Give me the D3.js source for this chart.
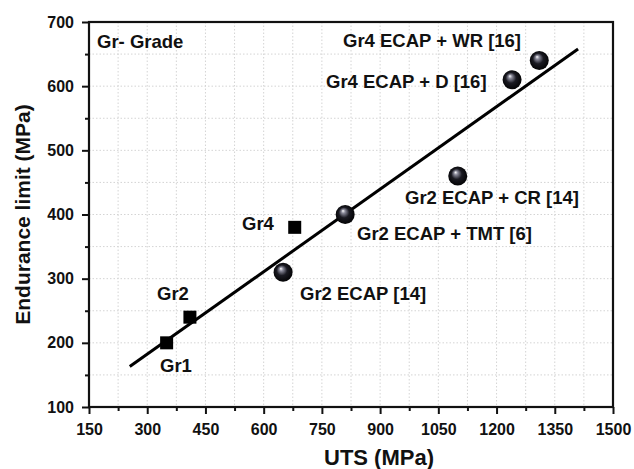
<!DOCTYPE html>
<html><head><meta charset="utf-8">
<script src="https://cdn.jsdelivr.net/npm/d3@7"></script>
<style>
body{margin:0;background:#fff;}
text{font-family:"Liberation Sans",Arial,sans-serif;font-weight:bold;fill:#111;}
</style></head>
<body><svg id="c" width="634" height="469"></svg>
<script>
// Data
const squareNames = ["Gr1","Gr2","Gr4"];
const squareUTS = [350, 410, 680];
const squareEL = [200, 240, 380];
const sphereNames = ["Gr2 ECAP [14]","Gr2 ECAP + TMT [6]","Gr2 ECAP + CR [14]","Gr4 ECAP + D [16]","Gr4 ECAP + WR [16]"];
const sphereUTS = [650, 810, 1100, 1240, 1310];
const sphereEL = [310, 400, 460, 610, 640];
const fitUTS = [255, 1410];
const fitEL = [163, 658];
const xTicks = [150,300,450,600,750,900,1050,1200,1350,1500];
const yTicks = [100,200,300,400,500,600,700];

const svg = d3.select("#c");
const L=89, R=613, T=22, B=407;
const x = d3.scaleLinear().domain([150,1500]).range([L,R]);
const y = d3.scaleLinear().domain([100,700]).range([B,T]);

// grid
const xg = d3.range(150,1501,75), yg = d3.range(100,701,50);
const grid = svg.append("g").attr("stroke","#d4d4d4").attr("stroke-width",1).attr("stroke-dasharray","1.5,2");
grid.selectAll(".gx").data(xg.slice(1,-1)).join("line").attr("x1",d=>x(d)).attr("x2",d=>x(d)).attr("y1",T).attr("y2",B);
grid.selectAll(".gy").data(yg.slice(1,-1)).join("line").attr("y1",d=>y(d)).attr("y2",d=>y(d)).attr("x1",L).attr("x2",R);

// axes
svg.append("g").attr("transform",`translate(0,${B})`)
  .call(d3.axisBottom(x).tickValues(xTicks).tickSize(7).tickPadding(10).tickFormat(d3.format("d")));
svg.append("g").attr("transform",`translate(${L},0)`)
  .call(d3.axisLeft(y).tickValues(yTicks).tickSize(7).tickPadding(8).tickFormat(d3.format("d")));
svg.append("g").attr("transform",`translate(0,${B})`)
  .call(d3.axisBottom(x).tickValues(xg.filter(d=>!xTicks.includes(d))).tickSize(4).tickFormat(""));
svg.append("g").attr("transform",`translate(${L},0)`)
  .call(d3.axisLeft(y).tickValues(yg.filter(d=>!yTicks.includes(d))).tickSize(4).tickFormat(""));
svg.selectAll(".domain").remove();
svg.selectAll(".tick line").attr("stroke","#111").attr("stroke-width",2);
svg.selectAll(".tick text").style("font-size","16px").attr("fill","#111").style("font-family","'Liberation Sans',Arial,sans-serif").style("font-weight","bold");
svg.append("rect").attr("x",L).attr("y",T).attr("width",R-L).attr("height",B-T)
  .attr("fill","none").attr("stroke","#111").attr("stroke-width",2.2);

// axis titles
svg.append("text").attr("x",379).attr("y",465).attr("text-anchor","middle").style("font-size","22px").text("UTS (MPa)");
svg.append("text").attr("transform",`translate(30,${(T+B)/2}) rotate(-90)`).attr("text-anchor","middle").style("font-size","21px").text("Endurance limit (MPa)");

// fit line
svg.append("line").attr("x1",x(fitUTS[0])).attr("y1",y(fitEL[0])).attr("x2",x(fitUTS[1])).attr("y2",y(fitEL[1]))
  .attr("stroke","#000").attr("stroke-width",3);

// gradient
const defs = svg.append("defs");
const rg = defs.append("radialGradient").attr("id","sph").attr("cx","0.5").attr("cy","0.5").attr("r","0.55").attr("fx","0.38").attr("fy","0.3");
rg.append("stop").attr("offset","0").attr("stop-color","#ffffff");
rg.append("stop").attr("offset","0.18").attr("stop-color","#8a8a9a");
rg.append("stop").attr("offset","0.5").attr("stop-color","#1a1a22");
rg.append("stop").attr("offset","1").attr("stop-color","#000");

// squares
const s=13;
svg.selectAll(".sq").data(squareUTS).join("rect")
  .attr("x",(d)=>x(d)-s/2).attr("y",(d,i)=>y(squareEL[i])-s/2).attr("width",s).attr("height",s).attr("fill","#000");
// spheres
svg.selectAll(".sp").data(sphereUTS).join("circle")
  .attr("cx",d=>x(d)).attr("cy",(d,i)=>y(sphereEL[i])).attr("r",9.5).attr("fill","url(#sph)");

// labels
const labels = [
  ["Gr- Grade",97,48],
  ["Gr1",160,372],["Gr2",157,300],["Gr4",242,230],
  ["Gr2 ECAP [14]",300,300],["Gr2 ECAP + TMT [6]",357,240],["Gr2 ECAP + CR [14]",405,204],
  ["Gr4 ECAP + D [16]",326,88],["Gr4 ECAP + WR [16]",343,47]
];
svg.selectAll(".lb").data(labels).join("text").attr("x",d=>d[1]).attr("y",d=>d[2]).style("font-size","18.5px").text(d=>d[0]);
</script></body></html>
